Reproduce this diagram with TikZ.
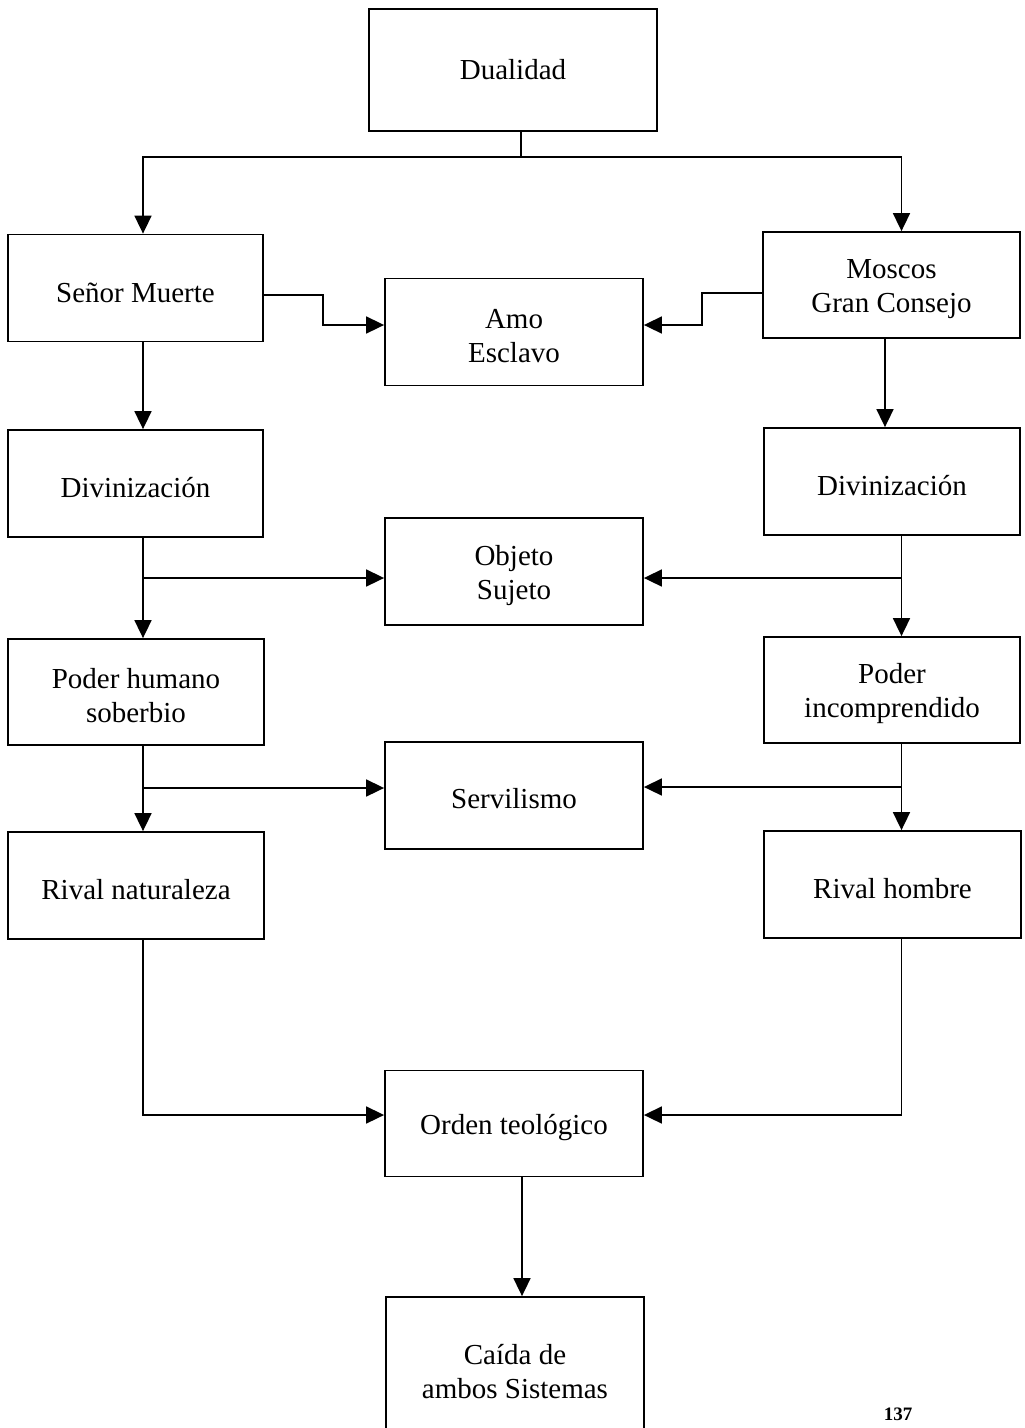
\documentclass[tikz,border=0pt]{standalone}
\usepackage{fontspec}
\setmainfont{Liberation Serif}
\usetikzlibrary{arrows.meta,calc}
\newcommand\mybx[7]{%
  \node[box,minimum width=#4pt,minimum height=#5pt] (#1) at (#2,#3) {};
  \node[txt] (#1t) at ([yshift=-#6pt]#1.center) {#7};}
\begin{document}
\begin{tikzpicture}[x=1pt,y=-1pt,
  box/.style={draw,line width=1.8pt,inner sep=0pt},
  txt/.style={inner sep=0pt,align=center,font=\fontsize{29}{34}\selectfont},
  arr/.style={line width=1.7pt,-{Triangle[length=18pt,width=17pt]}},
  ln/.style={line width=1.7pt}]
\useasboundingbox (0,0) rectangle (1025,1428);
\mybx{D}{513}{70}{288}{122}{0}{Dualidad}
\mybx{SM}{135.5}{288}{255}{107}{4.5}{Señor Muerte}
\mybx{MG}{891.5}{285}{257}{106}{4}{Moscos\\Gran Consejo}
\mybx{AE}{514}{332}{258}{107}{4}{Amo\\Esclavo}
\mybx{DL}{135.5}{483.5}{255}{107}{4}{Divinización}
\mybx{DR}{892}{481.5}{256}{107}{4}{Divinización}
\mybx{OS}{514}{571.5}{258}{107}{4}{Objeto\\Sujeto}
\mybx{PL}{136}{692}{256}{106}{4}{Poder humano\\soberbio}
\mybx{PR}{892}{690}{256}{106}{4}{Poder\\incomprendido}
\mybx{SV}{514}{795.5}{258}{107}{3}{Servilismo}
\mybx{RL}{136}{885.5}{256}{107}{4}{Rival naturaleza}
\mybx{RR}{892.5}{884.5}{257}{107}{4}{Rival hombre}
\mybx{OT}{514}{1123.5}{258}{106}{4}{Orden teológico}
\mybx{CA}{515}{1372}{258}{150}{0}{Caída de\\ambos Sistemas}
\node[font=\bfseries\fontsize{19}{21}\selectfont] (pg) at (898,1414) {137};
% columns
\coordinate (cl) at (143,0);
\coordinate (cr) at (901.5,0);
\coordinate (cr2) at (885,0);
\coordinate (split) at (521,157);
% entry points
\coordinate (osl) at ([yshift=-6.5pt]OS.west);
\coordinate (osr) at ([yshift=-6.5pt]OS.east);
\coordinate (svl) at ([yshift=7.5pt]SV.west);
\coordinate (svr) at ([yshift=8.5pt]SV.east);
\coordinate (sme) at ([yshift=-7pt]SM.east);
\coordinate (mgw) at ([yshift=-8pt]MG.west);
\coordinate (ael) at ([yshift=7pt]AE.west);
\coordinate (aer) at ([yshift=7pt]AE.east);
\coordinate (otl) at ([yshift=8.5pt]OT.west);
\coordinate (otr) at ([yshift=8.5pt]OT.east);
% top split
\draw[ln] (split |- D.south) -- (split);
\draw[arr] (split) -| (cl |- SM.north);
\draw[arr] (split) -| (cr |- MG.north);
% to Amo Esclavo
\draw[arr] (sme) -- ++(59,0) |- (ael);
\draw[arr] (mgw) -- ++(-60,0) |- (aer);
% down to Divinizacion
\draw[arr] (cl |- SM.south) -- (cl |- DL.north);
\draw[arr] (cr2 |- MG.south) -- (cr2 |- DR.north);
% Divinizacion -> Poder, Objeto Sujeto
\draw[arr] (cl |- DL.south) -- (cl |- PL.north);
\draw[arr] (cl |- osl) -- (osl);
\draw[arr] (cr |- DR.south) -- (cr |- PR.north);
\draw[arr] (cr |- osr) -- (osr);
% Poder -> Rival, Servilismo
\draw[arr] (cl |- PL.south) -- (cl |- RL.north);
\draw[arr] (cl |- svl) -- (svl);
\draw[arr] (cr |- PR.south) -- (cr |- RR.north);
\draw[arr] (cr |- svr) -- (svr);
% Rival -> Orden
\draw[arr] (cl |- RL.south) |- (otl);
\draw[arr] (cr |- RR.south) |- (otr);
% Orden -> Caida
\draw[arr] ([xshift=8pt]OT.south) -- ([xshift=8pt]OT.south |- CA.north);
\end{tikzpicture}
\end{document}
